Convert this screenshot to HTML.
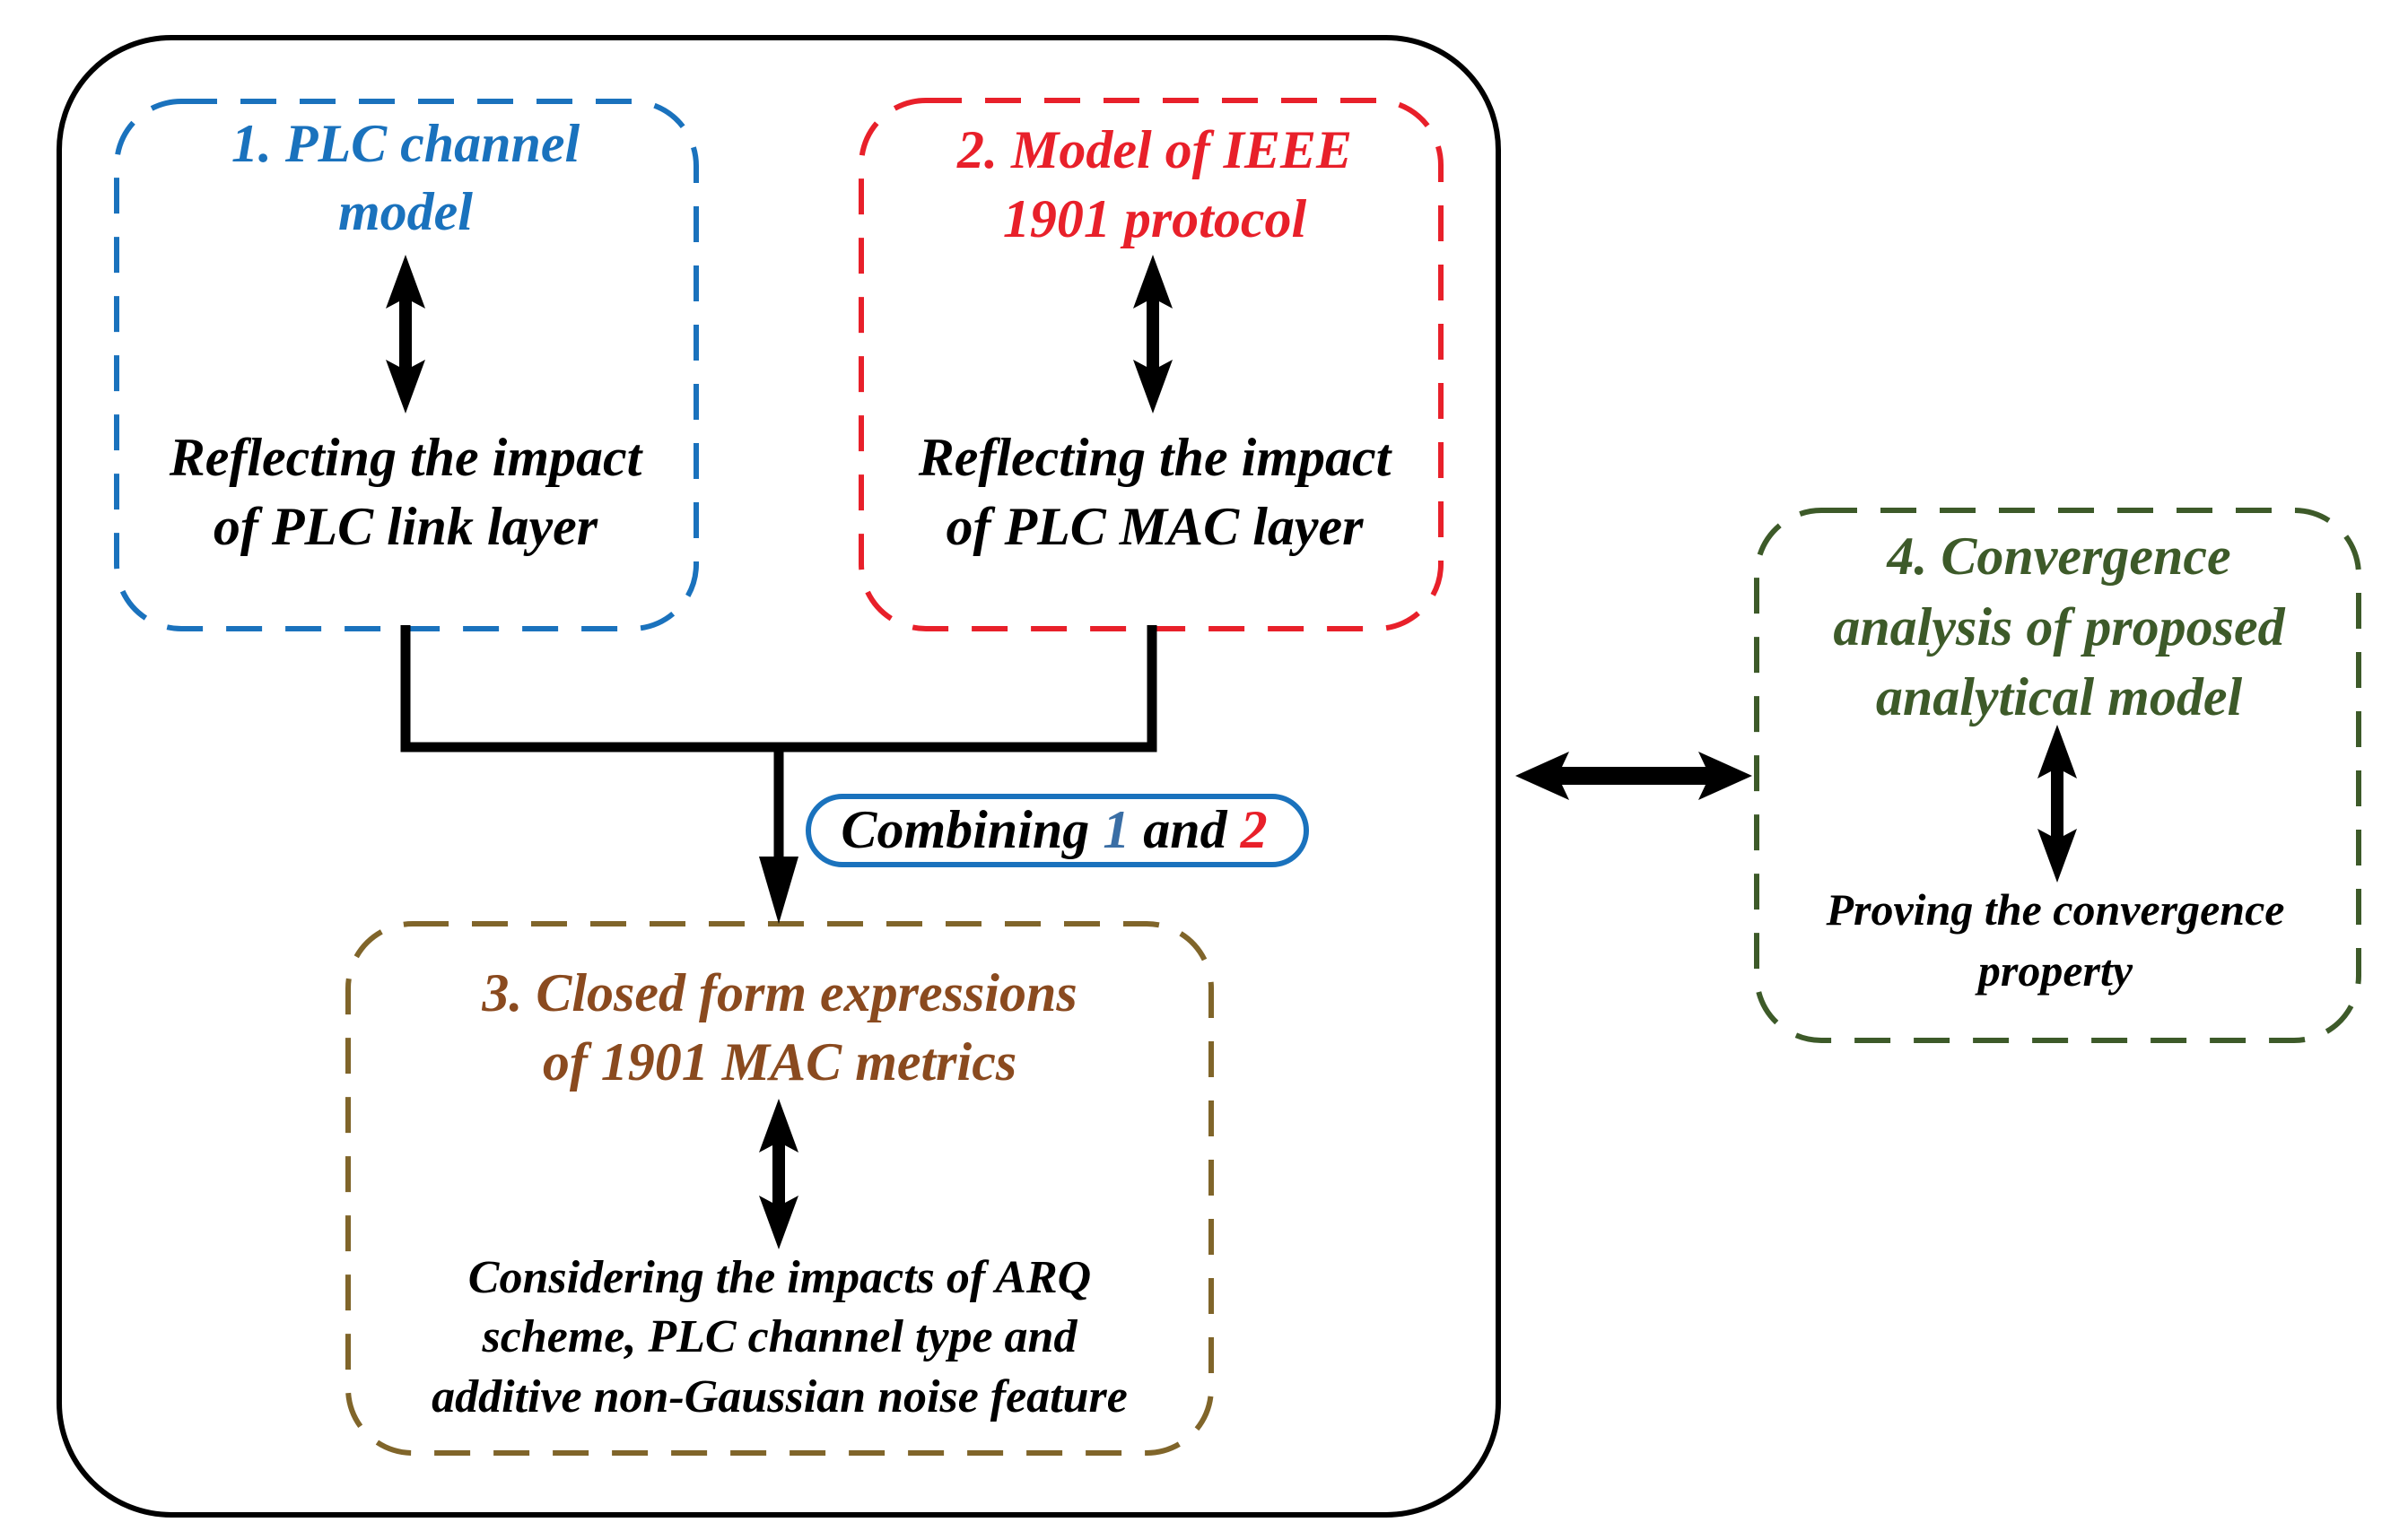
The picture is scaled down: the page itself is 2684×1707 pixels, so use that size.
<!DOCTYPE html>
<html><head><meta charset="utf-8"><style>
html,body{margin:0;padding:0;background:#fff}
svg{display:block}
svg text{font-family:"Liberation Serif","Times New Roman","DejaVu Serif",serif !important;font-weight:bold;font-style:italic;text-anchor:middle}
</style></head><body>
<svg width="2684" height="1707" viewBox="0 0 2684 1707" xmlns="http://www.w3.org/2000/svg" font-family="Liberation Serif, serif">
<rect x="66" y="42" width="1604" height="1647" rx="125" fill="none" stroke="#000" stroke-width="6"/>
<rect x="130" y="113" width="646" height="588" rx="72" fill="none" stroke="#1a72bd" stroke-width="6" stroke-dasharray="40 26"/>
<rect x="960" y="112" width="646" height="589" rx="72" fill="none" stroke="#e8202a" stroke-width="6" stroke-dasharray="40 26"/>
<rect x="388" y="1030" width="962" height="590" rx="72" fill="none" stroke="#80652a" stroke-width="6" stroke-dasharray="40 26"/>
<rect x="1958" y="569" width="671" height="591" rx="72" fill="none" stroke="#3d5a29" stroke-width="6" stroke-dasharray="40 26"/>
<polyline points="452,697 452,833 1284,833 1284,697" fill="none" stroke="#000" stroke-width="11"/>
<line x1="868" y1="833" x2="868" y2="960" stroke="#000" stroke-width="11"/>
<polygon points="846,955 890,955 868,1030" fill="#000"/>
<rect x="901" y="888" width="555" height="76" rx="38" fill="#fff" stroke="#1a72bd" stroke-width="6"/>
<text x="1175" y="945" font-size="60"><tspan fill="#000">Combining </tspan><tspan fill="#3a6ea5">1</tspan><tspan fill="#000"> and </tspan><tspan fill="#e8202a">2</tspan></text>
<g fill="#000">
<polygon transform="translate(452,284)" points="0,0 22,60 7,52 7,125 22,117 0,177 -22,117 -7,125 -7,52 -22,60"/>
<polygon transform="translate(1285,284)" points="0,0 22,60 7,52 7,125 22,117 0,177 -22,117 -7,125 -7,52 -22,60"/>
<polygon transform="translate(868,1225)" points="0,0 22,60 7,52 7,116 22,108 0,168 -22,108 -7,116 -7,52 -22,60"/>
<polygon transform="translate(2293,808)" points="0,0 22,60 7,52 7,124 22,116 0,176 -22,116 -7,124 -7,52 -22,60"/>
<polygon transform="translate(1689,865) rotate(-90)" points="0,0 27,60 10,52 10,212 27,204 0,264 -27,204 -10,212 -10,52 -27,60"/>
</g>
<g font-size="60">
<text x="452" y="180" fill="#1a72bd">1. PLC channel</text>
<text x="452" y="256" fill="#1a72bd">model</text>
<text x="452" y="530" fill="#000">Reflecting the impact</text>
<text x="452" y="607" fill="#000">of PLC link layer</text>
<text x="1287" y="187" fill="#e8202a">2. Model of IEEE</text>
<text x="1287" y="264" fill="#e8202a">1901 protocol</text>
<text x="1287" y="530" fill="#000">Reflecting the impact</text>
<text x="1287" y="607" fill="#000">of PLC MAC layer</text>
<text x="869" y="1127" fill="#8a4a1f">3. Closed form expressions</text>
<text x="869" y="1204" fill="#8a4a1f">of 1901 MAC metrics</text>
<text x="2295" y="640" fill="#3d5a29">4. Convergence</text>
<text x="2295" y="719" fill="#3d5a29">analysis of proposed</text>
<text x="2295" y="797" fill="#3d5a29">analytical model</text>
</g>
<g font-size="52" fill="#000">
<text x="869" y="1441">Considering the impacts of ARQ</text>
<text x="869" y="1507">scheme, PLC channel type and</text>
<text x="869" y="1574">additive non-Gaussian noise feature</text>
</g>
<g font-size="50" fill="#000">
<text x="2291" y="1031">Proving the convergence</text>
<text x="2291" y="1099">property</text>
</g>
</svg>
</body></html>
